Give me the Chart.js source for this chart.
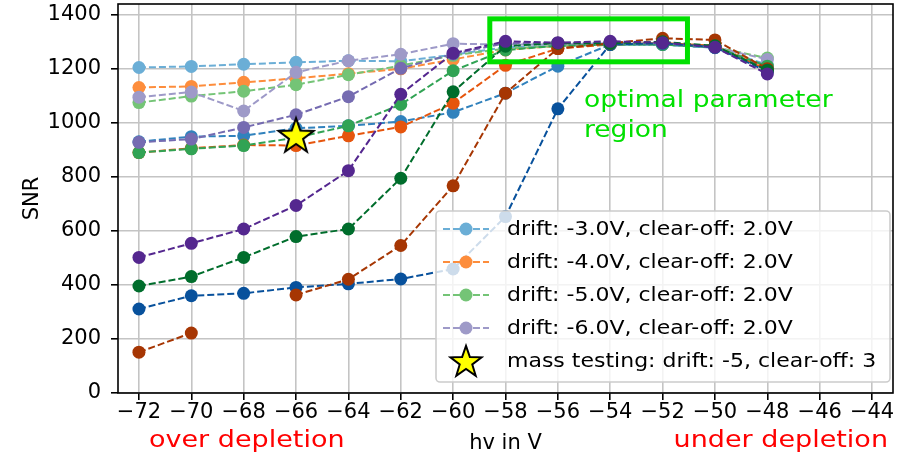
<!DOCTYPE html>
<html>
<head>
<meta charset="utf-8">
<script src="https://cdn.jsdelivr.net/npm/chart.js@4"></script>
<style>
    html, body { margin: 0; padding: 0; background: #ffffff; }
    #wrap { width: 911px; height: 460px; }
</style>
</head>
<body>
<div id="wrap"><canvas id="snrChart" width="911" height="460"></canvas></div>
<script>
// hv values (x) and axis ticks
const hvValues = [-72, -70, -68, -66, -64, -62, -60, -58, -56, -54, -52, -50, -48];
const xTickValues = [-72, -70, -68, -66, -64, -62, -60, -58, -56, -54, -52, -50, -48, -46, -44];
const yTickValues = [0, 200, 400, 600, 800, 1000, 1200, 1400];

// clear-off 2.0V (light colours, in legend)
const snrLightBlue = [1205, 1209, 1217, 1224, 1230, 1228, 1252, 1280, 1285, 1290, 1290, 1280, 1215];
const snrLightOrange = [1131, 1135, 1150, 1165, 1182, 1200, 1235, 1270, 1285, 1290, 1295, 1285, 1205];
const snrLightGreen = [1075, 1099, 1117, 1141, 1178, 1212, 1250, 1275, 1285, 1290, 1290, 1280, 1240];
const snrLightPurple = [1095, 1114, 1044, 1187, 1230, 1254, 1293, 1290, 1290, 1295, 1290, 1280, 1235];

// medium colours
const snrMidBlue = [930, 949, 952, 980, 989, 1005, 1039, 1110, 1210, 1290, 1290, 1278, 1200];
const snrMidOrange = [890, 906, 918, 916, 952, 985, 1073, 1213, 1275, 1290, 1295, 1285, 1195];
const snrMidGreen = [890, 904, 916, 945, 989, 1068, 1193, 1270, 1285, 1290, 1290, 1280, 1210];
const snrMidPurple = [928, 940, 983, 1030, 1097, 1202, 1255, 1295, 1295, 1295, 1295, 1280, 1195];

// dark colours
const snrDarkBlue = [311, 360, 369, 391, 404, 422, 459, 653, 1052, 1290, 1295, 1280, 1190];
const snrDarkBrown = [151, 222, null, 363, 421, 546, 767, 1110, 1275, 1295, 1313, 1307, 1200];
const snrDarkGreen = [396, 431, 502, 579, 607, 795, 1115, 1284, 1295, 1295, 1300, 1285, 1195];
const snrDarkPurple = [502, 554, 607, 694, 823, 1106, 1258, 1302, 1297, 1302, 1297, 1280, 1181];

// mass testing point
const massTestHv = [-66];
const massTestSnr = [955];

// optimal region box (data coords)
const optimalHv = [-58.6, -51.05];
const optimalSnr = [1226, 1385];

const legendLabels = [
    'drift: -3.0V, clear-off: 2.0V',
    'drift: -4.0V, clear-off: 2.0V',
    'drift: -5.0V, clear-off: 2.0V',
    'drift: -6.0V, clear-off: 2.0V',
    'mass testing: drift: -5, clear-off: 3'
];

const FONT = '"DejaVu Sans", sans-serif';
const GREEN = '#00e000';
const SQUEEZE = 0.88; // the reference text is a bit flattened

function toPoints(ys) {
    return hvValues.map((x, i) => ({ x: x, y: ys[i] }));
}

// filled star used as point style
function makeStar(size) {
    const c = document.createElement('canvas');
    c.width = size; c.height = size;
    const g = c.getContext('2d');
    const cx = size / 2, cy = size / 2 + size * 0.04;
    const ro = size / 2 - 1.5, ri = ro * 0.4;
    g.beginPath();
    for (let k = 0; k < 10; k++) {
        const r = k % 2 === 0 ? ro : ri;
        const a = -Math.PI / 2 + k * Math.PI / 5;
        const px = cx + r * Math.cos(a), py = cy + r * Math.sin(a);
        if (k === 0) g.moveTo(px, py); else g.lineTo(px, py);
    }
    g.closePath();
    g.fillStyle = '#ffff00';
    g.fill();
    g.lineWidth = 2;
    g.strokeStyle = '#000000';
    g.stroke();
    return c;
}
const starImg = makeStar(40);
const legendStar = makeStar(36);

const seriesList = [
    { data: snrLightBlue, color: '#6baed6' },
    { data: snrLightOrange, color: '#fd8d3c' },
    { data: snrLightGreen, color: '#74c476' },
    { data: snrLightPurple, color: '#9e9ac8' },
    { data: snrMidBlue, color: '#3182bd' },
    { data: snrMidOrange, color: '#e6550d' },
    { data: snrMidGreen, color: '#31a354' },
    { data: snrMidPurple, color: '#756bb1' },
    { data: snrDarkBlue, color: '#08519c' },
    { data: snrDarkBrown, color: '#a63603' },
    { data: snrDarkGreen, color: '#006d2c' },
    { data: snrDarkPurple, color: '#54278f' }
];

const datasets = seriesList.map((s, i) => ({
    data: toPoints(s.data),
    borderColor: s.color,
    backgroundColor: s.color,
    borderWidth: 2,
    borderDash: [7, 3],
    pointRadius: 6.5,
    pointBorderWidth: 0,
    pointHoverRadius: 6.5,
    spanGaps: false,
    fill: false,
    order: 100 - i
}));

datasets.push({
    data: massTestHv.map((x, i) => ({ x: x, y: massTestSnr[i] })),
    showLine: false,
    pointStyle: starImg,
    pointRadius: 20,
    order: 0
});

// text drawn a little flattened, like the reference
function squeezedText(ctx, text, x, y) {
    ctx.save();
    ctx.translate(x, y);
    ctx.scale(1, SQUEEZE);
    ctx.fillText(text, 0, 0);
    ctx.restore();
}

// frame, annotations, custom legend and texts
const decorPlugin = {
    id: 'decor',
    afterDatasetsDraw(chart) {
        const ctx = chart.ctx;
        const a = chart.chartArea;
        const xs = chart.scales.x, ys = chart.scales.y;
        ctx.save();

        // optimal region rectangle
        const rx0 = xs.getPixelForValue(optimalHv[0]);
        const rx1 = xs.getPixelForValue(optimalHv[1]);
        const ry0 = ys.getPixelForValue(optimalSnr[1]);
        const ry1 = ys.getPixelForValue(optimalSnr[0]);
        ctx.strokeStyle = GREEN;
        ctx.lineWidth = 5;
        ctx.strokeRect(rx0, ry0, rx1 - rx0, ry1 - ry0);

        ctx.fillStyle = GREEN;
        ctx.font = '26.5px ' + FONT;
        ctx.textAlign = 'left';
        ctx.textBaseline = 'alphabetic';
        squeezedText(ctx, 'optimal parameter', 584, 107);
        squeezedText(ctx, 'region', 584, 137);

        // frame
        ctx.strokeStyle = '#000000';
        ctx.lineWidth = 1.6;
        ctx.strokeRect(a.left, a.top, a.right - a.left, a.bottom - a.top);

        // legend
        const bx = 436, by = 211, bw = 454, bh = 171;
        ctx.beginPath();
        ctx.roundRect(bx, by, bw, bh, 4);
        ctx.fillStyle = 'rgba(255,255,255,0.8)';
        ctx.fill();
        ctx.strokeStyle = '#cccccc';
        ctx.lineWidth = 1.6;
        ctx.stroke();

        const rowY = [229, 262, 295, 328, 361];
        ctx.font = '22px ' + FONT;
        ctx.textBaseline = 'middle';
        for (let i = 0; i < 5; i++) {
            const y = rowY[i];
            if (i < 4) {
                const col = seriesList[i].color;
                ctx.strokeStyle = col;
                ctx.lineWidth = 2;
                ctx.setLineDash([7, 3]);
                ctx.beginPath();
                ctx.moveTo(443, y);
                ctx.lineTo(489, y);
                ctx.stroke();
                ctx.setLineDash([]);
                ctx.fillStyle = col;
                ctx.beginPath();
                ctx.arc(466, y, 6.5, 0, Math.PI * 2);
                ctx.fill();
            } else {
                ctx.drawImage(legendStar, 466 - 18, y - 18, 36, 36);
            }
            ctx.fillStyle = '#000000';
            squeezedText(ctx, legendLabels[i], 507, y + 1);
        }

        // axis labels
        ctx.fillStyle = '#000000';
        ctx.font = '21px ' + FONT;
        ctx.textAlign = 'center';
        ctx.textBaseline = 'alphabetic';
        ctx.fillText('hv in V', (a.left + a.right) / 2, 449);
        ctx.save();
        ctx.translate(38, (a.top + a.bottom) / 2);
        ctx.rotate(-Math.PI / 2);
        ctx.fillText('SNR', 0, 0);
        ctx.restore();

        ctx.fillStyle = '#ff0000';
        ctx.font = '27px ' + FONT;
        ctx.textAlign = 'left';
        squeezedText(ctx, 'over depletion', 149, 447);
        ctx.textAlign = 'right';
        squeezedText(ctx, 'under depletion', 888, 447);

        ctx.restore();
    }
};

function noEdgePadding(scale) {
    scale.paddingTop = 0;
    scale.paddingBottom = 0;
    scale.paddingLeft = 0;
    scale.paddingRight = 0;
}

const chart = new Chart(document.getElementById('snrChart'), {
    type: 'line',
    data: { datasets: datasets },
    options: {
        responsive: false,
        animation: false,
        devicePixelRatio: 1,
        layout: { autoPadding: false, padding: { left: 0, right: 18, top: 4, bottom: 0 } },
        plugins: {
            legend: { display: false },
            tooltip: { enabled: false }
        },
        scales: {
            x: {
                type: 'linear',
                min: -72.8,
                max: -43.2,
                afterBuildTicks: (scale) => { scale.ticks = xTickValues.map(v => ({ value: v })); },
                afterFit: (scale) => { scale.height = 67; noEdgePadding(scale); },
                grid: { color: '#c4c4c4', lineWidth: 1.6, tickColor: '#000000', tickLength: 7, tickWidth: 1.6 },
                border: { display: false },
                ticks: {
                    font: { family: FONT, size: 21 },
                    color: '#000000',
                    padding: 0,
                    maxRotation: 0,
                    autoSkip: false,
                    callback: (v) => String(v).replace('-', '\u2212')
                }
            },
            y: {
                type: 'linear',
                min: 0,
                max: 1440,
                afterBuildTicks: (scale) => { scale.ticks = yTickValues.map(v => ({ value: v })); },
                afterFit: (scale) => { scale.width = 118; noEdgePadding(scale); },
                grid: { color: '#c4c4c4', lineWidth: 1.6, tickColor: '#000000', tickLength: 7, tickWidth: 1.6 },
                border: { display: false },
                ticks: {
                    font: { family: FONT, size: 21 },
                    color: '#000000',
                    padding: 10,
                    autoSkip: false,
                    callback: (v) => String(v)
                }
            }
        }
    },
    plugins: [decorPlugin]
});
</script>
</body>
</html>
